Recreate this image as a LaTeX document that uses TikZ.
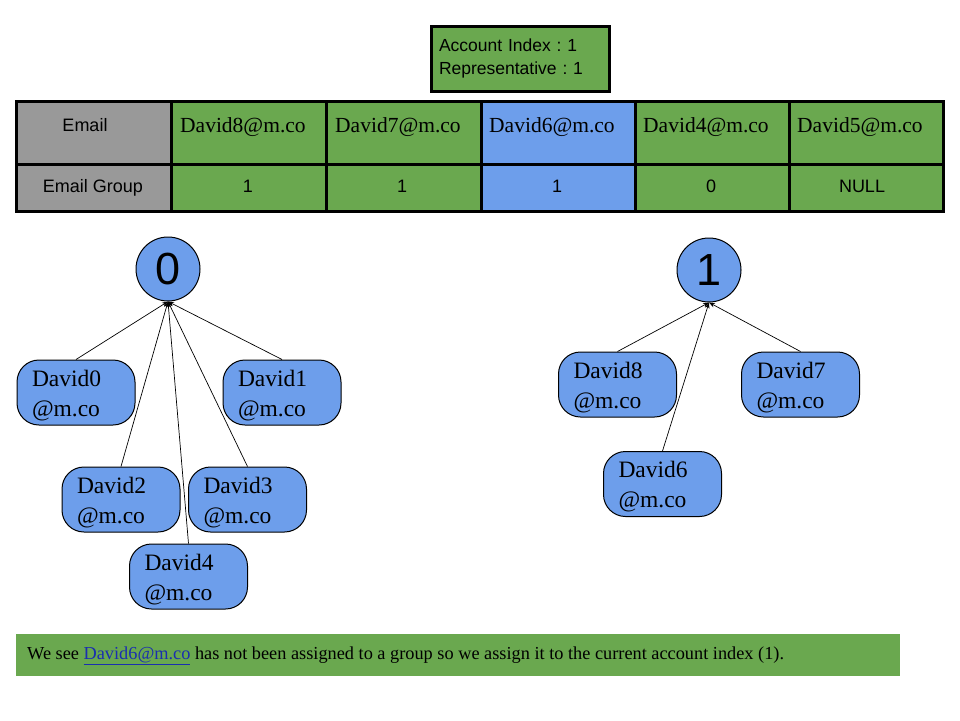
\documentclass[tikz,border=0pt]{standalone}
\usepackage{fontspec}
\setmainfont{Liberation Serif}
\newfontfamily\arial{Liberation Sans}
\usetikzlibrary{arrows.meta}
\definecolor{grn}{HTML}{6AA84F}
\definecolor{blu}{HTML}{6D9EEB}
\definecolor{gry}{HTML}{999999}
\definecolor{lnk}{HTML}{1A2EB0}
\frenchspacing
\newcommand{\topstrut}{\rule{0pt}{22pt}}
\tikzset{
  emailnode/.style={draw=black, line width=1pt, fill=blu, rounded corners=22pt,
    minimum width=118pt, minimum height=65pt, text width=88pt, inner xsep=15pt,
    inner ysep=0pt, align=left, font=\fontsize{23.5}{30}\selectfont},
  groupnode/.style={circle, draw=black, line width=1pt, fill=blu, minimum size=64pt,
    inner sep=0pt, font=\arial\fontsize{45}{45}\selectfont},
  edge/.style={line width=0.7pt, -{Stealth[length=6pt,width=4.5pt]}},
  sanscell/.style={font=\arial\fontsize{18}{20}\selectfont, inner sep=0pt, anchor=base},
  serifcell/.style={font=\fontsize{21.5}{24}\selectfont, inner sep=0pt, anchor=west},
  gridline/.style={line width=3pt, black},
}
\begin{document}
\begin{tikzpicture}[x=1pt,y=-1pt]
\useasboundingbox[fill=white] (0,0) rectangle (960,720);

% top info box
\node[draw=black, line width=3pt, fill=grn, minimum width=178pt, minimum height=65pt,
  text width=162pt, inner xsep=8pt, align=left, font=\arial\fontsize{17.5}{23}\selectfont]
  (info) at (520,58.5) {Account Index : 1\\Representative : 1};

% table fills
\fill[gry] (16,101) rectangle (171,211);
\fill[grn] (171,101) rectangle (481,211);
\fill[blu] (481,101) rectangle (635,211);
\fill[grn] (635,101) rectangle (943,211);
\draw[gridline] (16,101) rectangle (943,211);
\draw[gridline] (16,164) -- (943,164);
\foreach \xx in {171,326,481,635,789} \draw[gridline] (\xx,101) -- (\xx,211);

% table texts
\node[sanscell] (h1) at (85,131) {Email};
\node[sanscell] (h2) at (93,192) {Email Group};
\node[serifcell] (e1) at (180,127) {David8@m.co};
\node[serifcell] (e2) at (335,127) {David7@m.co};
\node[serifcell] (e3) at (489,127) {David6@m.co};
\node[serifcell] (e4) at (643,127) {David4@m.co};
\node[serifcell] (e5) at (797,127) {David5@m.co};
\node[sanscell] (g1) at (248,192) {1};
\node[sanscell] (g2) at (402,192) {1};
\node[sanscell] (g3) at (557,192) {1};
\node[sanscell] (g4) at (711,192) {0};
\node[sanscell] (g5) at (862,192) {NULL};

% group 0
\node[groupnode] (c0) at (168,269) {0};
\node[emailnode] (d0) at (76,392.5) {\topstrut David0\\@m.co};
\node[emailnode] (d1) at (282,392.5) {\topstrut David1\\@m.co};
\node[emailnode] (d2) at (121,499.5) {\topstrut David2\\@m.co};
\node[emailnode] (d3) at (247.5,499.5) {\topstrut David3\\@m.co};
\node[emailnode] (d4) at (188.5,576.5) {\topstrut David4\\@m.co};
\foreach \n in {d0,d1,d2,d3,d4} \draw[edge] (\n.north) -- (c0.south);

% group 1
\node[groupnode] (c1) at (709,270) {1};
\node[emailnode] (d8) at (617.5,384.5) {\topstrut David8\\@m.co};
\node[emailnode] (d7) at (800.5,384.5) {\topstrut David7\\@m.co};
\node[emailnode] (d6) at (662.5,484) {\topstrut David6\\@m.co};
\foreach \n in {d8,d7,d6} \draw[edge] (\n.north) -- (c1.south);

% bottom note
\fill[grn] (16,634) rectangle (900,676);
\node[anchor=west, inner sep=0pt, font=\fontsize{18.3}{20}\selectfont] (note) at (27,656)
  {We see \textcolor{lnk}{\underline{David6@m.co}} has not been assigned to a group so we assign it to the current account index (1).};
\end{tikzpicture}
\end{document}
